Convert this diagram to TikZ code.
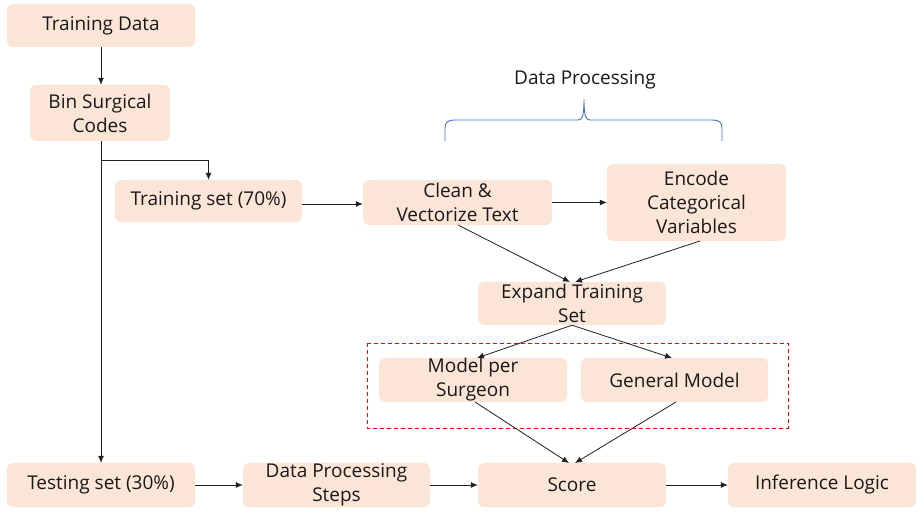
\documentclass[tikz,border=0pt]{standalone}
\usepackage{fontspec}
\setmainfont{Open Sans}
\usetikzlibrary{arrows.meta}
\definecolor{peach}{HTML}{FBE5D6}
\definecolor{bracec}{HTML}{4472C4}
\definecolor{linec}{HTML}{202020}
\begin{document}
\begin{tikzpicture}[x=1pt,y=1pt,
  box/.style={fill=peach, rounded corners=6pt, inner sep=0pt, align=center, font=\fontsize{19}{24}\selectfont, text=black!90},
  arr/.style={draw=linec, line width=0.8pt, -{Latex[length=7pt,width=6pt]}},
  ln/.style={draw=linec, line width=0.8pt}]
\useasboundingbox (0,0) rectangle (924,-518);
\node[box, minimum width=188pt, minimum height=43pt] (td) at (101,-25.5) {Training Data};
\node[box, minimum width=140pt, minimum height=56pt] (bin) at (100,-113) {Bin Surgical\\Codes};
\node[box, minimum width=187pt, minimum height=42pt] (trs) at (208.5,-201) {Training set (70\%)};
\node[box, minimum width=189pt, minimum height=45pt] (clean) at (457.5,-202.5) {Clean \&\\Vectorize Text};
\node[box, minimum width=179pt, minimum height=77pt] (enc) at (696.5,-202.5) {Encode\\Categorical\\Variables};
\node[box, minimum width=188pt, minimum height=43pt] (exp) at (572,-303.5) {Expand Training\\Set};
\node[box, minimum width=188pt, minimum height=44pt] (mps) at (473,-380) {Model per\\Surgeon};
\node[box, minimum width=187pt, minimum height=44pt] (gen) at (674.5,-380) {General Model};
\node[box, minimum width=188pt, minimum height=44pt] (tes) at (101,-485) {Testing set (30\%)};
\node[box, minimum width=187pt, minimum height=44pt] (dps) at (336.5,-485) {Data Processing\\Steps};
\node[box, minimum width=188pt, minimum height=44pt] (score) at (572,-485) {Score};
\node[box, minimum width=188pt, minimum height=44pt] (inf) at (822,-485) {Inference Logic};
\node[font=\fontsize{19}{24}\selectfont, text=black!90] (dplabel) at (585,-80) {Data Processing};
\draw[red, line width=0.9pt, dash pattern=on 4pt off 3pt] (367,-343) rectangle (788,-428);
% brace
\draw[bracec, line width=0.9pt] (445,-141) -- (445,-128) .. controls (445,-122) and (448,-120) .. (455,-120) -- (578,-120) .. controls (582,-120) and (584,-117) .. (584,-99) .. controls (584,-117) and (586,-120) .. (590,-120) -- (712,-120) .. controls (719,-120) and (722,-122) .. (722,-128) -- (722,-141);
% connectors
\draw[arr] (td.south) -- (bin.north -| td.south);
\draw[arr] (bin.south -| td.south) -- (tes.north);
\coordinate (split) at (101,-160);
\draw[arr] (split) -- (trs.north |- split) -- (trs.north);
\draw[arr] (trs.east |- 0,-204) -- (clean.west |- 0,-204);
\draw[arr] (clean.east) -- (enc.west |- clean.east);
\draw[arr] (458,-225) -- (570,-282);
\draw[arr] (700,-241) -- (575,-282);
\draw[arr] (exp.south) -- (477,-358);
\draw[arr] (exp.south) -- (672,-358);
\draw[arr] (475,-402) -- (569,-463);
\draw[arr] (676,-402) -- (575,-463);
\draw[arr] (tes.east) -- (dps.west);
\draw[arr] (dps.east) -- (score.west);
\draw[arr] (score.east) -- (inf.west);
\end{tikzpicture}
\end{document}
